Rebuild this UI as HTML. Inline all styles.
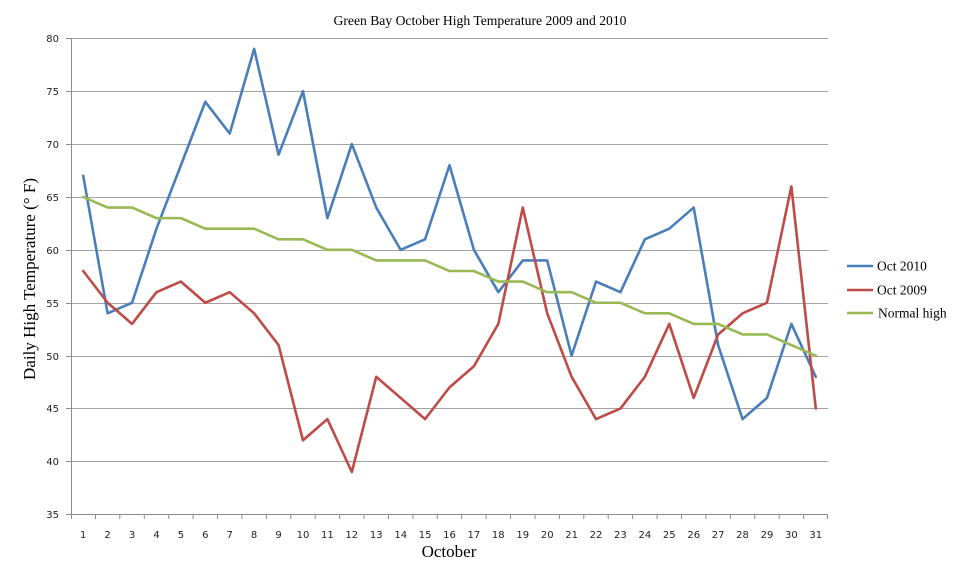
<!DOCTYPE html>
<html>
<head>
<meta charset="utf-8">
<style>
html,body{margin:0;padding:0;background:#fff;}
svg{display:block;}
.tk{font-family:"DejaVu Sans","Liberation Sans",sans-serif;font-size:10px;fill:#222;}
.sf{font-family:"Liberation Serif",serif;fill:#000;}
</style>
</head>
<body>
<svg width="960" height="564" viewBox="0 0 960 564" xmlns="http://www.w3.org/2000/svg">
<rect width="960" height="564" fill="#fff"/>
<text class="sf" x="480" y="25" font-size="14" text-anchor="middle" textLength="293" lengthAdjust="spacingAndGlyphs">Green Bay October High Temperature 2009 and 2010</text>

<!-- gridlines -->
<g stroke="#a3a3a3" stroke-width="1">
<line x1="71" y1="38.5" x2="828" y2="38.5"/>
<line x1="71" y1="91.5" x2="828" y2="91.5"/>
<line x1="71" y1="144.5" x2="828" y2="144.5"/>
<line x1="71" y1="197.5" x2="828" y2="197.5"/>
<line x1="71" y1="250.5" x2="828" y2="250.5"/>
<line x1="71" y1="303.5" x2="828" y2="303.5"/>
<line x1="71" y1="356.5" x2="828" y2="356.5"/>
<line x1="71" y1="408.5" x2="828" y2="408.5"/>
<line x1="71" y1="461.5" x2="828" y2="461.5"/>
</g>

<!-- axes -->
<g stroke="#8c8c8c" stroke-width="1" fill="none">
<line x1="71.5" y1="38" x2="71.5" y2="515"/>
<line x1="71" y1="514.5" x2="828" y2="514.5"/>
<path d="M66 38.5H71M66 91.5H71M66 144.5H71M66 197.5H71M66 250.5H71M66 303.5H71M66 356.5H71M66 408.5H71M66 461.5H71M66 514.5H71"/>
<path d="M71.5 514V519M95.5 514V519M119.8 514V519M144.3 514V519M168.7 514V519M193.1 514V519M217.5 514V519M241.9 514V519M266.4 514V519M290.8 514V519M315.2 514V519M339.6 514V519M364 514V519M388.5 514V519M412.9 514V519M437.3 514V519M461.7 514V519M486.1 514V519M510.5 514V519M535 514V519M559.4 514V519M583.8 514V519M608.2 514V519M632.6 514V519M657.1 514V519M681.5 514V519M705.9 514V519M730.3 514V519M754.7 514V519M779.2 514V519M803.6 514V519M827.5 514V519"/>
</g>

<!-- y labels -->
<g class="tk" text-anchor="end">
<text x="59" y="42">80</text>
<text x="59" y="95">75</text>
<text x="59" y="148">70</text>
<text x="59" y="201">65</text>
<text x="59" y="254">60</text>
<text x="59" y="307">55</text>
<text x="59" y="360">50</text>
<text x="59" y="412">45</text>
<text x="59" y="465">40</text>
<text x="59" y="518">35</text>
</g>

<!-- x labels -->
<g class="tk" text-anchor="middle">
<text x="83.2" y="538">1</text><text x="107.6" y="538">2</text><text x="132.1" y="538">3</text><text x="156.5" y="538">4</text><text x="180.9" y="538">5</text><text x="205.3" y="538">6</text><text x="229.7" y="538">7</text><text x="254.1" y="538">8</text><text x="278.6" y="538">9</text><text x="303" y="538">10</text><text x="327.4" y="538">11</text><text x="351.8" y="538">12</text><text x="376.2" y="538">13</text><text x="400.7" y="538">14</text><text x="425.1" y="538">15</text><text x="449.5" y="538">16</text><text x="473.9" y="538">17</text><text x="498.3" y="538">18</text><text x="522.8" y="538">19</text><text x="547.2" y="538">20</text><text x="571.6" y="538">21</text><text x="596" y="538">22</text><text x="620.4" y="538">23</text><text x="644.9" y="538">24</text><text x="669.3" y="538">25</text><text x="693.7" y="538">26</text><text x="718.1" y="538">27</text><text x="742.5" y="538">28</text><text x="767" y="538">29</text><text x="791.4" y="538">30</text><text x="815.8" y="538">31</text>
</g>

<text class="sf" x="449" y="557" font-size="17" text-anchor="middle">October</text>
<text class="sf" transform="translate(35,279) rotate(-90)" font-size="17" text-anchor="middle" textLength="202" lengthAdjust="spacingAndGlyphs">Daily High Temperature (° F)</text>

<!-- series -->
<g fill="none" stroke-width="2.6" stroke-linejoin="round" stroke-linecap="round">
<polyline stroke="#4a7ebb" points="83.21,175.81 107.63,313.33 132.05,302.75 156.47,228.70 180.89,165.24 205.30,101.77 229.72,133.50 254.14,48.88 278.56,154.66 302.98,91.19 327.40,218.12 351.82,144.08 376.24,207.55 400.66,249.86 425.08,239.28 449.50,165.24 473.92,249.86 498.34,292.17 522.76,260.44 547.18,260.44 571.60,355.64 596.02,281.59 620.44,292.17 644.86,239.28 669.28,228.70 693.69,207.55 718.11,345.06 742.53,419.11 766.95,397.95 791.37,323.91 815.79,376.79"/>
<polyline stroke="#be4b48" points="83.21,271.01 107.63,302.75 132.05,323.91 156.47,292.17 180.89,281.59 205.30,302.75 229.72,292.17 254.14,313.33 278.56,345.06 302.98,440.26 327.40,419.11 351.82,472.0 376.24,376.79 400.66,397.95 425.08,419.11 449.50,387.37 473.92,366.22 498.34,323.91 522.76,207.55 547.18,313.33 571.60,376.79 596.02,419.11 620.44,408.53 644.86,376.79 669.28,323.91 693.69,397.95 718.11,334.48 742.53,313.33 766.95,302.75 791.37,186.39 815.79,408.53"/>
<polyline stroke="#98b954" points="83.21,196.97 107.63,207.55 132.05,207.55 156.47,218.12 180.89,218.12 205.30,228.70 229.72,228.70 254.14,228.70 278.56,239.28 302.98,239.28 327.40,249.86 351.82,249.86 376.24,260.44 400.66,260.44 425.08,260.44 449.50,271.01 473.92,271.01 498.34,281.59 522.76,281.59 547.18,292.17 571.60,292.17 596.02,302.75 620.44,302.75 644.86,313.33 669.28,313.33 693.69,323.91 718.11,323.91 742.53,334.48 766.95,334.48 791.37,345.06 815.79,355.64"/>
</g>

<!-- legend -->
<g stroke-width="2.6">
<line x1="847" y1="266" x2="873" y2="266" stroke="#4a7ebb"/>
<line x1="847" y1="290" x2="873" y2="290" stroke="#be4b48"/>
<line x1="847" y1="313" x2="873" y2="313" stroke="#98b954"/>
</g>
<g class="sf" font-size="13.5">
<text x="877" y="270.5">Oct 2010</text>
<text x="877" y="294.5">Oct 2009</text>
<text x="878" y="317.5">Normal high</text>
</g>
</svg>
</body>
</html>
